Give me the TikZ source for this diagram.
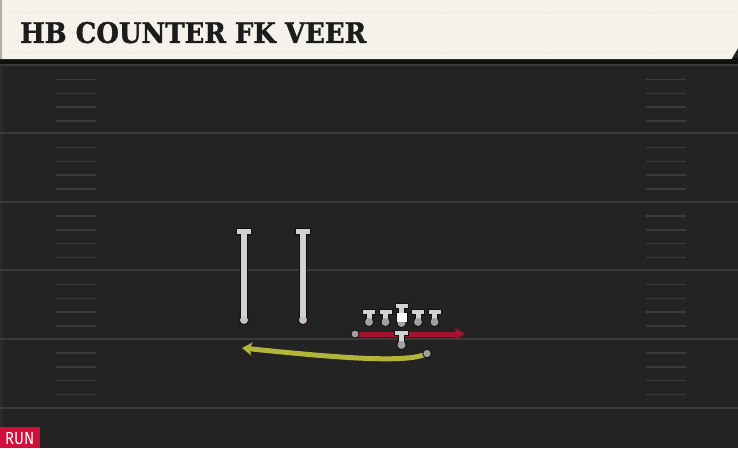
\documentclass[tikz,border=0pt]{standalone}
\usepackage{fontspec}
\newfontfamily\titlefont{DejaVu Serif}[FakeBold=1.5]
\newfontfamily\runfont{Fira Sans}
\usetikzlibrary{arrows.meta}
\definecolor{fieldbg}{HTML}{232323}
\definecolor{yardline}{HTML}{3A3A3A}
\definecolor{banner}{HTML}{F5F2EC}
\definecolor{bannerdot}{HTML}{E4DFD6}
\definecolor{titleink}{HTML}{1C1C1C}
\definecolor{runred}{HTML}{D20F3A}
\definecolor{blockred}{HTML}{A3122F}
\definecolor{pathyellow}{HTML}{B3B43A}
\definecolor{plight}{HTML}{D2D2D2}
\definecolor{pdot}{HTML}{A0A0A0}
\definecolor{pout}{HTML}{101010}
\tikzset{
  yardstyle/.style={draw=yardline, line width=2pt},
  hashstyle/.style={draw=yardline, line width=1.8pt},
  outlinefill/.style={fill=pout},
  lightfill/.style={fill=plight},
  dotfill/.style={fill=pdot},
  lineman/.pic={
    \fill[outlinefill] (-7,-13.5) rectangle (7,-7.5);
    \fill[outlinefill] (-3.5,-9) rectangle (3.5,0);
    \fill[outlinefill] (0,0) circle (5);
    \fill[lightfill] (-6,-12.5) rectangle (6,-8.5);
    \fill[lightfill] (-2.5,-9) rectangle (2.5,0);
    \fill[dotfill] (0,0) circle (4);
  },
  centerman/.pic={
    \fill[outlinefill] (-7,-20.5) rectangle (7,-14.5);
    \fill[outlinefill] (-3.5,-16) rectangle (3.5,-10);
    \fill[outlinefill] (-6,-11) rectangle (6,0);
    \fill[outlinefill] (0,0) circle (5);
    \fill[dotfill] (0,0) circle (4);
    \fill[lightfill] (-6,-19.5) rectangle (6,-15.5);
    \fill[lightfill] (-2.5,-16) rectangle (2.5,-10);
    \fill[white] (-5,-10) rectangle (5,-1);
  },
  qbman/.pic={
    \fill[outlinefill] (-7.5,-15) rectangle (7.5,-9);
    \fill[outlinefill] (-3.5,-11) rectangle (3.5,0);
    \fill[outlinefill] (0,0) circle (5);
    \fill[lightfill] (-6.5,-14) rectangle (6.5,-10);
    \fill[lightfill] (-2.5,-11) rectangle (2.5,0);
    \fill[dotfill] (0,0) circle (4);
  },
  receiver/.pic={
    \fill[outlinefill] (-8,-92) rectangle (8,-85.5);
    \fill[outlinefill] (-3.8,-88) rectangle (3.8,0);
    \fill[outlinefill] (0,0) circle (5);
    \fill[lightfill] (-7,-91) rectangle (7,-86.5);
    \fill[lightfill] (-2.8,-88) rectangle (2.8,0);
    \fill[fill={rgb,255:red,205;green,192;blue,192}] (0,0) circle (4);
  },
  startdot/.style={fill=pdot, draw=pout, line width=0.8pt},
  redroute/.style={draw=blockred, line width=5pt, -{Stealth[length=10pt,width=12pt,inset=2pt]}},
  yellowroute/.style={draw=pathyellow, line width=5pt, -{Stealth[length=10pt,width=13pt,inset=2.5pt]}},
}
\begin{document}
\begin{tikzpicture}[x=1pt,y=-1pt]
\useasboundingbox (0,0) rectangle (738,448);
% field
\fill[fieldbg] (0,0) rectangle (738,448);
\fill[fill={rgb,255:red,42;green,42;blue,42}] (0,60) rectangle (2.5,448);
% yard lines
\foreach \yy in {65,133,201.5,270,338.5,407.5}
  \draw[yardstyle] (0,\yy) -- (738,\yy);
% hash marks
\foreach \yy in {65,133,201.5,270,338.5}{
  \foreach \off in {14.5,28.5,42,56}{
    \draw[hashstyle] (56,\yy+\off) -- (96,\yy+\off);
    \draw[hashstyle] (646,\yy+\off) -- (686,\yy+\off);
  }
}
% banner
\fill[fill={rgb,255:red,16;green,16;blue,16}] (0,58) rectangle (738,63.5);
\fill[banner] (0,0) -- (738,0) -- (738,48) -- (731.5,59) -- (0,59) -- cycle;
\fill[fill={rgb,255:red,175;green,175;blue,170}] (0,0) rectangle (2,59);
\draw[bannerdot, dotted, line width=0.6pt] (8,12) -- (735,12);
\draw[bannerdot, dotted, line width=0.6pt] (8,52) -- (730,52);
\node[anchor=south west, inner sep=0pt, text=titleink] (title) at (20,43.5)
  {\resizebox{346pt}{21pt}{\titlefont\bfseries HB COUNTER FK VEER}};
% RUN tag
\fill[runred] (0,427) rectangle (40,448);
\node[anchor=south west, inner sep=0pt, text=white] (runlabel) at (5,445)
  {\resizebox{29pt}{12pt}{\runfont RUN}};
% receivers (vertical routes)
\pic (wra) at (244,320) {receiver};
\pic (wrb) at (303,320) {receiver};
% block line and start
\coordinate (redstart) at (355,334);
\coordinate (redend) at (465,334);
\draw[redroute] (redstart) -- (redend);
\fill[startdot] (redstart) circle (4);
% yellow run path
\coordinate (rbstart) at (427,353.5);
\coordinate (rbend) at (242,348);
\draw[yellowroute] (rbstart) .. controls (408,364) and (330,357) .. (rbend);
\fill[startdot] (rbstart) circle (4.2);
% offensive line
\pic (lt) at (369,322) {lineman};
\pic (lg) at (385.5,322) {lineman};
\pic (cc) at (401.5,323) {centerman};
\pic (rg) at (418,322) {lineman};
\pic (rt) at (434.5,322) {lineman};
% quarterback
\pic (qb) at (401.5,345) {qbman};
\end{tikzpicture}
\end{document}
